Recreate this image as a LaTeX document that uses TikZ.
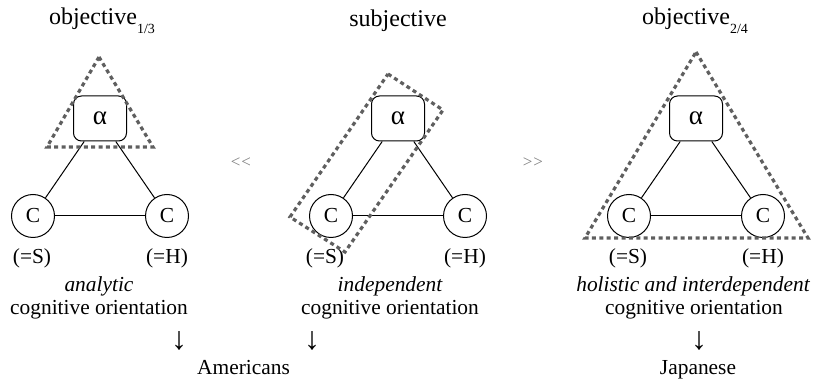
\documentclass[tikz,border=0pt]{standalone}
\usepackage{fontspec}
\setmainfont{Liberation Serif}
\usepackage{tikz}
\usetikzlibrary{positioning}
\definecolor{framegray}{RGB}{95,95,95}
\tikzset{
  agent/.style={draw, rounded corners=4pt, minimum width=26.5pt, minimum height=22.5pt, inner sep=0pt, font=\fontsize{13.5}{15}\selectfont},
  cnode/.style={draw, circle, minimum size=21.5pt, inner sep=0pt, font=\fontsize{10.7}{12}\selectfont},
  frame/.style={draw=framegray, line width=1.6pt, dash pattern=on 2pt off 1.7pt},
  title/.style={anchor=base, inner sep=0pt, font=\fontsize{12}{14}\selectfont},
  txt/.style={anchor=base, inner sep=0pt, font=\fontsize{10.7}{13}\selectfont},
  down/.style={inner sep=0pt, font=\fontsize{16}{16}\selectfont},
  rel/.style={inner sep=0pt, text=gray, font=\fontsize{8.5}{9}\selectfont},
}

\begin{document}
\begin{tikzpicture}[x=0.5pt, y=-0.5pt, line width=0.5pt]
    \useasboundingbox (0,0) rectangle (814,384);
    % 1. Titles
    \node[title] (tobja) at (102,25) {objective\raisebox{-4.5pt}{\fontsize{7}{8}\selectfont 1/3}};
    \node[title] (tsubj) at (398,27) {subjective};
    \node[title] (tobjc) at (695,25) {objective\raisebox{-4.5pt}{\fontsize{7}{8}\selectfont 2/4}};

    % 2. Triads alpha - C - C
    \foreach \cx/\p/\sx in {100/a/32, 398/b/325, 696/c/628} {
        \node[agent] (alpha\p) at (\cx,118.5) {α};
        \node[cnode] (cl\p) at (\cx-67,216) {C};
        \node[cnode] (cr\p) at (\cx+67,216) {C};
        \draw (alpha\p) -- (cl\p);
        \draw (alpha\p) -- (cr\p);
        \draw (cl\p) -- (cr\p);
        \node[txt] (s\p) at (\sx,264) {(=S)};
        \node[txt] (h\p) at (\cx+67,264) {(=H)};
    }

    % 3. Orientations
    \node[txt] (ia) at (99,292) {\itshape analytic};
    \node[txt] (oa) at (99,315) {cognitive orientation};
    \node[txt] (ib) at (390,292) {\itshape independent};
    \node[txt] (ob) at (390,315) {cognitive orientation};
    \node[txt] (ic) at (693,292) {\itshape holistic and interdependent};
    \node[txt] (oc) at (694,315) {cognitive orientation};
    \node[down] (da) at (179,341) {↓};
    \node[down] (db) at (312,341) {↓};
    \node[down] (dc) at (699,341) {↓};
    \node[txt] (am) at (243.5,375) {Americans};
    \node[txt] (jp) at (698,375) {Japanese};
    \node[rel] (ll) at (241,163) {<\kern0.5pt<};
    \node[rel] (gg) at (533,163) {>\kern0.5pt>};

    % 4. Dotted frames
    \draw[frame] (99,57) -- (153,147) -- (47,147) -- cycle;
    \draw[frame] (388,74) -- (443,110) -- (345,252) -- (290,217) -- cycle;
    \draw[frame] (696,52) -- (808,238) -- (585,238) -- cycle;
\end{tikzpicture}
\end{document}
